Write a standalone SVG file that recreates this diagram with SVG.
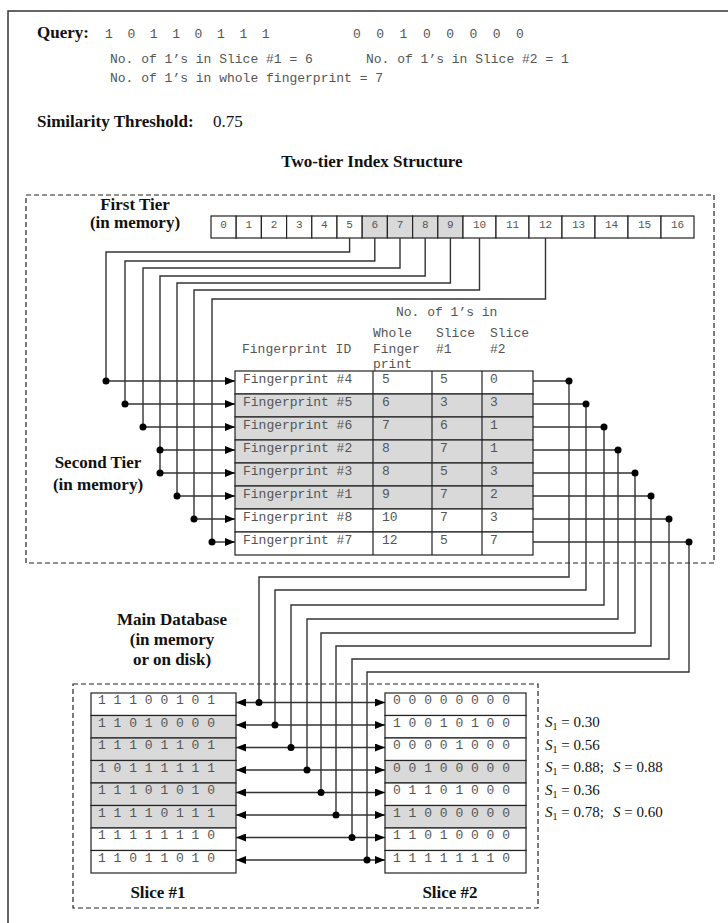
<svg xmlns="http://www.w3.org/2000/svg" width="728" height="923" viewBox="0 0 728 923">
<defs>
<style>
.frame{fill:none;stroke:#333;stroke-width:1.5}
.dash{fill:none;stroke:#222;stroke-width:1.2;stroke-dasharray:5 3}
.cw{fill:#fff;stroke:#222;stroke-width:1.2}
.cg{fill:#d9d9d9;stroke:#222;stroke-width:1.2}
.ln{fill:none;stroke:#222;stroke-width:1.2}
.mono{font-family:"Liberation Mono","Courier New",monospace;font-size:13px;fill:#555}
.sm{font-family:"Liberation Mono","Courier New",monospace;font-size:11px;fill:#555;text-anchor:middle}
.hd{font-family:"Liberation Serif","Times New Roman",serif;font-weight:bold;font-size:17px;fill:#111}
.hdc{font-family:"Liberation Serif","Times New Roman",serif;font-weight:bold;font-size:17px;fill:#111;text-anchor:middle}
.ser{font-family:"Liberation Serif","Times New Roman",serif;font-size:17px;fill:#111}
.sl{font-family:"Liberation Serif","Times New Roman",serif;font-size:15px;fill:#111}
.wire{fill:none;stroke:#333;stroke-width:1.4}
.dot{fill:#000}
</style>
<marker id="ah" viewBox="0 0 10 8" refX="10" refY="4" markerWidth="10" markerHeight="8" markerUnits="userSpaceOnUse" orient="auto-start-reverse">
<path d="M0,0 L10,4 L0,8 z" fill="#000"/>
</marker>
</defs>

<path class="frame" d="M8 923 V11 H728"/>

<g id="query">
<text class="hd" x="37" y="38">Query:</text>
<text class="mono" x="105 127.4 149.8 172.2 194.6 217 239.4 261.8" y="38">10110111</text>
<text class="mono" x="353 376.3 399.6 422.9 446.2 469.5 492.8 516.1" y="38">00100000</text>
<text class="mono" x="110" y="63">No. of 1’s in Slice #1 = 6</text>
<text class="mono" x="366" y="63">No. of 1’s in Slice #2 = 1</text>
<text class="mono" x="110" y="82">No. of 1’s in whole fingerprint = 7</text>
</g>

<g id="threshold">
<text class="hd" x="37" y="127">Similarity Threshold:</text>
<text class="ser" x="213" y="127">0.75</text>
</g>

<g id="two-tier">
<text class="hdc" x="372" y="167">Two-tier Index Structure</text>
<rect class="dash" x="26" y="195" width="688" height="368"/>
</g>

<g id="first-tier-label">
<text class="hdc" x="135" y="210">First Tier</text>
<text class="hdc" x="135" y="228">(in memory)</text>
</g>

<g id="first-tier">
<rect class="cw" x="211" y="216" width="25.2" height="22"/>
<rect class="cw" x="236.2" y="216" width="25.2" height="22"/>
<rect class="cw" x="261.4" y="216" width="25.2" height="22"/>
<rect class="cw" x="286.6" y="216" width="25.2" height="22"/>
<rect class="cw" x="311.8" y="216" width="25.2" height="22"/>
<rect class="cw" x="337" y="216" width="25.2" height="22"/>
<rect class="cg" x="362.2" y="216" width="25.2" height="22"/>
<rect class="cg" x="387.4" y="216" width="25.2" height="22"/>
<rect class="cg" x="412.6" y="216" width="25.2" height="22"/>
<rect class="cg" x="437.8" y="216" width="25.2" height="22"/>
<rect class="cw" x="463" y="216" width="33" height="22"/>
<rect class="cw" x="496" y="216" width="33" height="22"/>
<rect class="cw" x="529" y="216" width="33" height="22"/>
<rect class="cw" x="562" y="216" width="33" height="22"/>
<rect class="cw" x="595" y="216" width="33" height="22"/>
<rect class="cw" x="628" y="216" width="33" height="22"/>
<rect class="cw" x="661" y="216" width="33" height="22"/>
<text class="sm" x="223.6" y="228">0</text>
<text class="sm" x="248.8" y="228">1</text>
<text class="sm" x="274" y="228">2</text>
<text class="sm" x="299.2" y="228">3</text>
<text class="sm" x="324.4" y="228">4</text>
<text class="sm" x="349.6" y="228">5</text>
<text class="sm" x="374.8" y="228">6</text>
<text class="sm" x="400" y="228">7</text>
<text class="sm" x="425.2" y="228">8</text>
<text class="sm" x="450.4" y="228">9</text>
<text class="sm" x="479.5" y="228">10</text>
<text class="sm" x="512.5" y="228">11</text>
<text class="sm" x="545.5" y="228">12</text>
<text class="sm" x="578.5" y="228">13</text>
<text class="sm" x="611.5" y="228">14</text>
<text class="sm" x="644.5" y="228">15</text>
<text class="sm" x="677.5" y="228">16</text>
</g>

<g id="second-tier-label">
<text class="hdc" x="98" y="468">Second Tier</text>
<text class="hdc" x="98" y="490">(in memory)</text>
</g>

<g id="second-tier">
<text class="mono" x="396" y="316">No. of 1’s in</text>
<text class="mono" x="242" y="353">Fingerprint ID</text>
<text class="mono" x="373" y="337">Whole</text>
<text class="mono" x="373" y="353">Finger</text>
<text class="mono" x="373" y="368">print</text>
<text class="mono" x="436" y="337">Slice</text>
<text class="mono" x="436" y="353">#1</text>
<text class="mono" x="490" y="337">Slice</text>
<text class="mono" x="490" y="353">#2</text>
<rect class="cw" x="235" y="371" width="298" height="23"/>
<rect class="cg" x="235" y="394" width="298" height="23"/>
<rect class="cg" x="235" y="417" width="298" height="23"/>
<rect class="cg" x="235" y="440" width="298" height="23"/>
<rect class="cg" x="235" y="463" width="298" height="23"/>
<rect class="cg" x="235" y="486" width="298" height="23"/>
<rect class="cw" x="235" y="509" width="298" height="23"/>
<rect class="cw" x="235" y="532" width="298" height="23"/>
<path class="ln" d="M373 371 V555 M432 371 V555 M482 371 V555"/>
<g class="mono">
<text x="243" y="382.5">Fingerprint #4</text><text x="382" y="382.5">5</text><text x="440" y="382.5">5</text><text x="490" y="382.5">0</text>
<text x="243" y="405.5">Fingerprint #5</text><text x="382" y="405.5">6</text><text x="440" y="405.5">3</text><text x="490" y="405.5">3</text>
<text x="243" y="428.5">Fingerprint #6</text><text x="382" y="428.5">7</text><text x="440" y="428.5">6</text><text x="490" y="428.5">1</text>
<text x="243" y="451.5">Fingerprint #2</text><text x="382" y="451.5">8</text><text x="440" y="451.5">7</text><text x="490" y="451.5">1</text>
<text x="243" y="474.5">Fingerprint #3</text><text x="382" y="474.5">8</text><text x="440" y="474.5">5</text><text x="490" y="474.5">3</text>
<text x="243" y="497.5">Fingerprint #1</text><text x="382" y="497.5">9</text><text x="440" y="497.5">7</text><text x="490" y="497.5">2</text>
<text x="243" y="520.5">Fingerprint #8</text><text x="382" y="520.5">10</text><text x="440" y="520.5">7</text><text x="490" y="520.5">3</text>
<text x="243" y="543.5">Fingerprint #7</text><text x="382" y="543.5">12</text><text x="440" y="543.5">5</text><text x="490" y="543.5">7</text>
</g>
</g>

<g id="database-label">
<text class="hdc" x="172" y="625">Main Database</text>
<text class="hdc" x="172" y="645">(in memory</text>
<text class="hdc" x="172" y="665">or on disk)</text>
</g>

<g id="database">
<rect class="dash" x="73" y="684" width="465" height="224"/>
</g>

<g id="slice1">
<rect class="cw" x="91" y="693" width="145" height="22.5"/>
<rect class="cg" x="91" y="715.5" width="145" height="22.5"/>
<rect class="cg" x="91" y="738" width="145" height="22.5"/>
<rect class="cg" x="91" y="760.5" width="145" height="22.5"/>
<rect class="cg" x="91" y="783" width="145" height="22.5"/>
<rect class="cg" x="91" y="805.5" width="145" height="22.5"/>
<rect class="cw" x="91" y="828" width="145" height="22.5"/>
<rect class="cw" x="91" y="850.5" width="145" height="22.5"/>
<g class="mono">
<text x="98" y="704">1 1 1 0 0 1 0 1</text>
<text x="98" y="726.5">1 1 0 1 0 0 0 0</text>
<text x="98" y="749">1 1 1 0 1 1 0 1</text>
<text x="98" y="771.5">1 0 1 1 1 1 1 1</text>
<text x="98" y="794">1 1 1 0 1 0 1 0</text>
<text x="98" y="816.5">1 1 1 1 0 1 1 1</text>
<text x="98" y="839">1 1 1 1 1 1 1 0</text>
<text x="98" y="861.5">1 1 0 1 1 0 1 0</text>
</g>
<text class="hdc" x="158" y="898">Slice #1</text>
</g>

<g id="slice2">
<rect class="cw" x="385" y="693" width="141" height="22.5"/>
<rect class="cw" x="385" y="715.5" width="141" height="22.5"/>
<rect class="cw" x="385" y="738" width="141" height="22.5"/>
<rect class="cg" x="385" y="760.5" width="141" height="22.5"/>
<rect class="cw" x="385" y="783" width="141" height="22.5"/>
<rect class="cg" x="385" y="805.5" width="141" height="22.5"/>
<rect class="cw" x="385" y="828" width="141" height="22.5"/>
<rect class="cw" x="385" y="850.5" width="141" height="22.5"/>
<g class="mono">
<text x="393" y="704">0 0 0 0 0 0 0 0</text>
<text x="393" y="726.5">1 0 0 1 0 1 0 0</text>
<text x="393" y="749">0 0 0 0 1 0 0 0</text>
<text x="393" y="771.5">0 0 1 0 0 0 0 0</text>
<text x="393" y="794">0 1 1 0 1 0 0 0</text>
<text x="393" y="816.5">1 1 0 0 0 0 0 0</text>
<text x="393" y="839">1 1 0 1 0 0 0 0</text>
<text x="393" y="861.5">1 1 1 1 1 1 1 0</text>
</g>
<text class="hdc" x="450" y="898">Slice #2</text>
</g>

<g id="similarities" class="sl">
<text x="545" y="727"><tspan font-style="italic">S</tspan><tspan font-size="10" dy="3">1</tspan><tspan dy="-3"> = 0.30</tspan></text>
<text x="545" y="749.5"><tspan font-style="italic">S</tspan><tspan font-size="10" dy="3">1</tspan><tspan dy="-3"> = 0.56</tspan></text>
<text x="545" y="772"><tspan font-style="italic">S</tspan><tspan font-size="10" dy="3">1</tspan><tspan dy="-3"> = 0.88;</tspan></text>
<text x="613" y="772"><tspan font-style="italic">S</tspan> = 0.88</text>
<text x="545" y="794.5"><tspan font-style="italic">S</tspan><tspan font-size="10" dy="3">1</tspan><tspan dy="-3"> = 0.36</tspan></text>
<text x="545" y="817"><tspan font-style="italic">S</tspan><tspan font-size="10" dy="3">1</tspan><tspan dy="-3"> = 0.78;</tspan></text>
<text x="613" y="817"><tspan font-style="italic">S</tspan> = 0.60</text>
</g>

<g id="connectors">
<g class="wire">
<path d="M349.6 238 V252 H106 V381"/>
<path d="M374.8 238 V261 H125 V404"/>
<path d="M400 238 V268 H143 V427"/>
<path d="M425.2 238 V276 H160 V473"/>
<path d="M450.4 238 V283 H177 V496"/>
<path d="M479.5 238 V290 H194 V519"/>
<path d="M545.5 238 V299 H212 V542"/>
<path d="M106 381 H235" marker-end="url(#ah)"/>
<path d="M125 404 H235" marker-end="url(#ah)"/>
<path d="M143 427 H235" marker-end="url(#ah)"/>
<path d="M160 450 H235" marker-end="url(#ah)"/>
<path d="M160 473 H235" marker-end="url(#ah)"/>
<path d="M177 496 H235" marker-end="url(#ah)"/>
<path d="M194 519 H235" marker-end="url(#ah)"/>
<path d="M212 542 H235" marker-end="url(#ah)"/>
<path d="M533 381 H569 V577 H259 V702.5"/>
<path d="M533 404 H586 V590 H275 V725"/>
<path d="M533 427 H604 V605 H291 V747.5"/>
<path d="M533 450 H618 V619 H307 V770"/>
<path d="M533 473 H635 V633 H321 V792.5"/>
<path d="M533 496 H651 V646 H336 V815"/>
<path d="M533 519 H669 V659 H352 V837.5"/>
<path d="M533 542 H689 V672 H367 V860"/>
<path d="M236 702.5 H385" marker-start="url(#ah)" marker-end="url(#ah)"/>
<path d="M236 725 H385" marker-start="url(#ah)" marker-end="url(#ah)"/>
<path d="M236 747.5 H385" marker-start="url(#ah)" marker-end="url(#ah)"/>
<path d="M236 770 H385" marker-start="url(#ah)" marker-end="url(#ah)"/>
<path d="M236 792.5 H385" marker-start="url(#ah)" marker-end="url(#ah)"/>
<path d="M236 815 H385" marker-start="url(#ah)" marker-end="url(#ah)"/>
<path d="M236 837.5 H385" marker-start="url(#ah)" marker-end="url(#ah)"/>
<path d="M236 860 H385" marker-start="url(#ah)" marker-end="url(#ah)"/>
</g>
<g class="dot">
<circle cx="106" cy="381" r="3.5"/>
<circle cx="125" cy="404" r="3.5"/>
<circle cx="143" cy="427" r="3.5"/>
<circle cx="160" cy="450" r="3.5"/>
<circle cx="160" cy="473" r="3.5"/>
<circle cx="177" cy="496" r="3.5"/>
<circle cx="194" cy="519" r="3.5"/>
<circle cx="212" cy="542" r="3.5"/>
<circle cx="569" cy="381" r="3.5"/>
<circle cx="586" cy="404" r="3.5"/>
<circle cx="604" cy="427" r="3.5"/>
<circle cx="618" cy="450" r="3.5"/>
<circle cx="635" cy="473" r="3.5"/>
<circle cx="651" cy="496" r="3.5"/>
<circle cx="669" cy="519" r="3.5"/>
<circle cx="689" cy="542" r="3.5"/>
<circle cx="259" cy="702.5" r="3.5"/>
<circle cx="275" cy="725" r="3.5"/>
<circle cx="291" cy="747.5" r="3.5"/>
<circle cx="307" cy="770" r="3.5"/>
<circle cx="321" cy="792.5" r="3.5"/>
<circle cx="336" cy="815" r="3.5"/>
<circle cx="352" cy="837.5" r="3.5"/>
<circle cx="367" cy="860" r="3.5"/>
</g>
</g>
</svg>
